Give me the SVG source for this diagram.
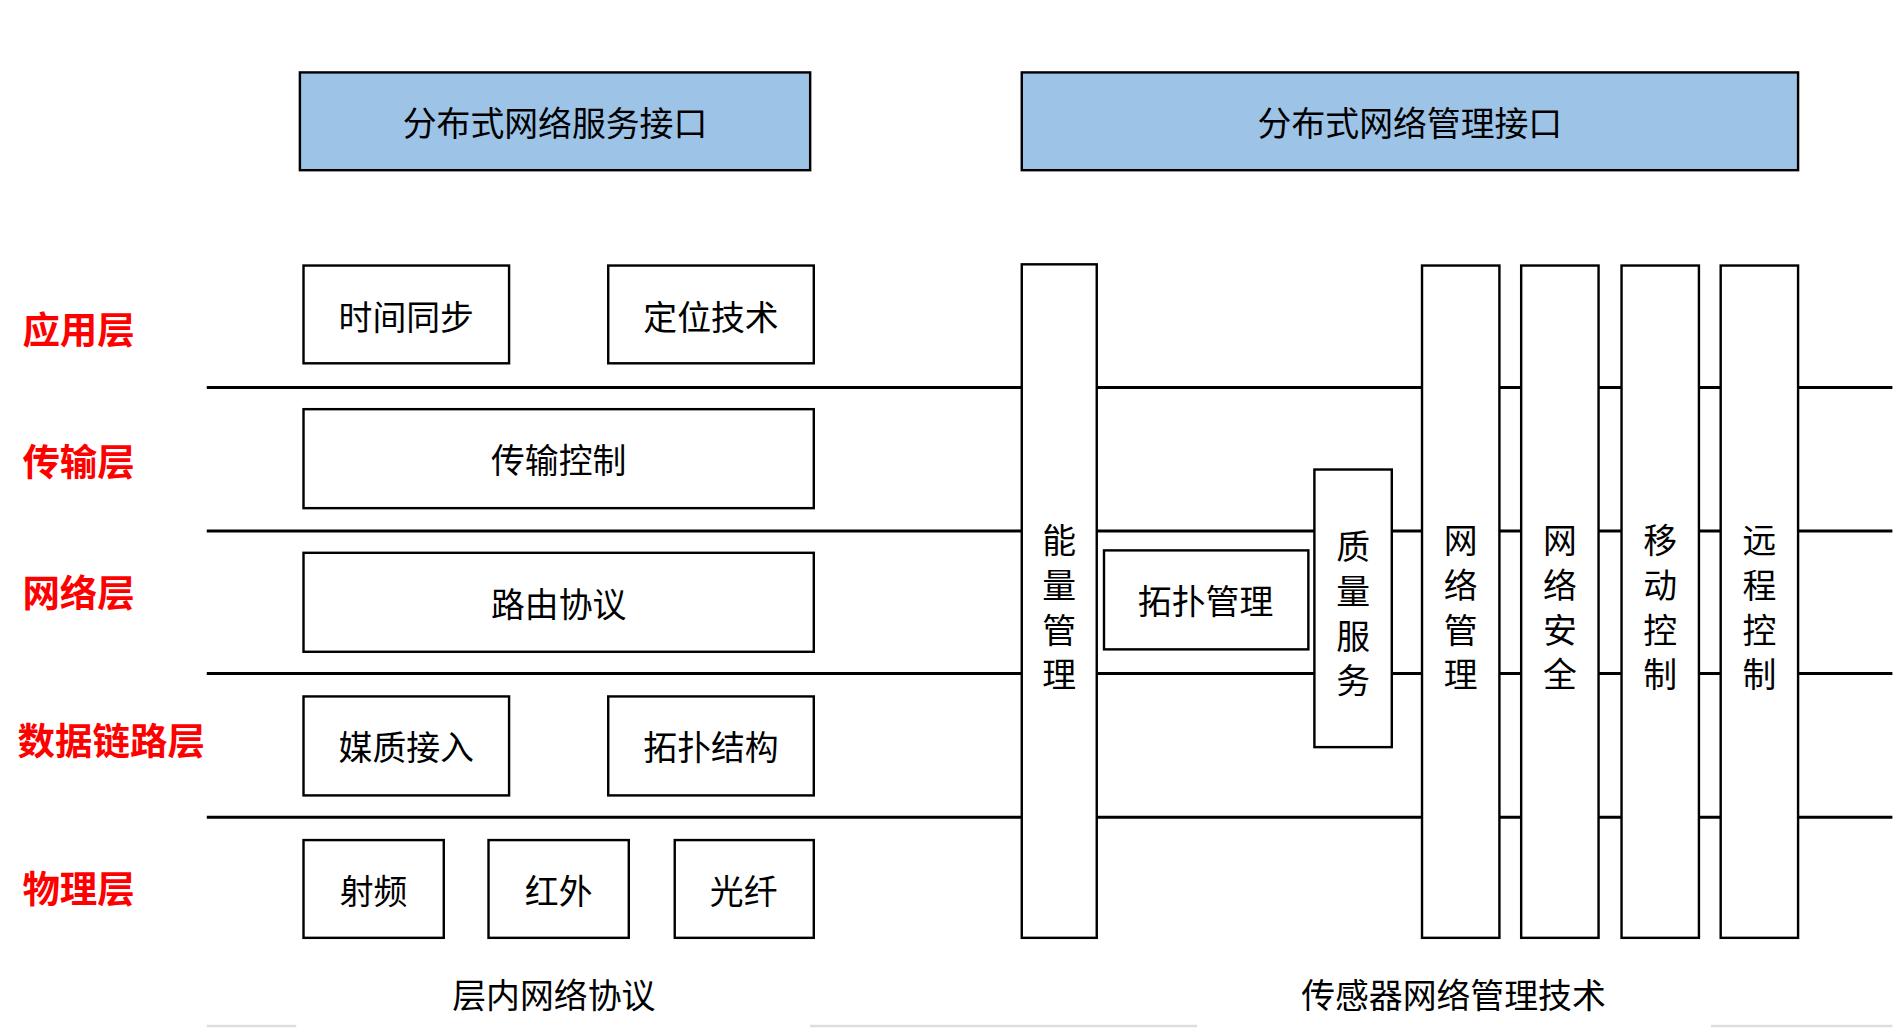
<svg xmlns="http://www.w3.org/2000/svg" width="1896" height="1032" viewBox="0 0 1896 1032">
<style>
.b{fill:#fff;stroke:#000;stroke-width:2}
.h{fill:#9dc3e6;stroke:#000;stroke-width:2}
.t{font-family:"Noto Sans CJK SC",sans-serif;font-size:28px;text-anchor:middle;dominant-baseline:central;fill:#000}
.r{font-family:"Noto Sans CJK SC",sans-serif;font-size:31px;font-weight:bold;fill:#f00;text-anchor:middle;dominant-baseline:central}
.l{stroke:#000;stroke-width:2.5}
</style>
<rect width="1896" height="1032" fill="#fff"/>
<g transform="scale(1.2092,1.207)">
<g id="connectors">
<path class="l" d="M171 321H845M171 440H845M171 558H845M171 677H845M907 321H1565M907 440H1565M907 558H1565M907 677H1565"/>
<path stroke="#ddd" stroke-width="2" d="M171 850H245M670 850H990M1415 850H1565"/>
</g>
<g id="layers">
<text class="r" x="65" y="272">应用层</text>
<text class="r" x="65" y="381">传输层</text>
<text class="r" x="65" y="490">网络层</text>
<text class="r" x="92" y="612">数据链路层</text>
<text class="r" x="65" y="735">物理层</text>
</g>
<g id="n1"><rect class="h" x="248" y="60" width="422" height="81"/><text class="t" x="459" y="101">分布式网络服务接口</text></g>
<g id="n2"><rect class="h" x="845" y="60" width="642" height="81"/><text class="t" x="1166" y="101">分布式网络管理接口</text></g>
<g id="n3"><rect class="b" x="251" y="220" width="170" height="81"/><text class="t" x="336" y="261">时间同步</text></g>
<g id="n4"><rect class="b" x="503" y="220" width="170" height="81"/><text class="t" x="588" y="261">定位技术</text></g>
<g id="n5"><rect class="b" x="251" y="339" width="422" height="82"/><text class="t" x="462" y="380">传输控制</text></g>
<g id="n6"><rect class="b" x="251" y="458" width="422" height="82"/><text class="t" x="462" y="499">路由协议</text></g>
<g id="n7"><rect class="b" x="251" y="577" width="170" height="82"/><text class="t" x="336" y="618">媒质接入</text></g>
<g id="n8"><rect class="b" x="503" y="577" width="170" height="82"/><text class="t" x="588" y="618">拓扑结构</text></g>
<g id="n9"><rect class="b" x="251" y="696" width="116" height="81"/><text class="t" x="309" y="737">射频</text></g>
<g id="n10"><rect class="b" x="404" y="696" width="116" height="81"/><text class="t" x="462" y="737">红外</text></g>
<g id="n11"><rect class="b" x="558" y="696" width="115" height="81"/><text class="t" x="615" y="737">光纤</text></g>
<g id="n12"><rect class="b" x="845" y="219" width="62" height="558"/><text class="t" x="876"><tspan x="876" y="446">能</tspan><tspan x="876" y="483">量</tspan><tspan x="876" y="520">管</tspan><tspan x="876" y="557">理</tspan></text></g>
<g id="n13"><rect class="b" x="913" y="456" width="169" height="82"/><text class="t" x="997" y="497">拓扑管理</text></g>
<g id="n14"><rect class="b" x="1087" y="389" width="64" height="230"/><text class="t"><tspan x="1119" y="451">质</tspan><tspan x="1119" y="488">量</tspan><tspan x="1119" y="525">服</tspan><tspan x="1119" y="562">务</tspan></text></g>
<g id="n15"><rect class="b" x="1176" y="220" width="64" height="557"/><text class="t"><tspan x="1208" y="446">网</tspan><tspan x="1208" y="483">络</tspan><tspan x="1208" y="520">管</tspan><tspan x="1208" y="557">理</tspan></text></g>
<g id="n16"><rect class="b" x="1258" y="220" width="64" height="557"/><text class="t"><tspan x="1290" y="446">网</tspan><tspan x="1290" y="483">络</tspan><tspan x="1290" y="520">安</tspan><tspan x="1290" y="557">全</tspan></text></g>
<g id="n17"><rect class="b" x="1341" y="220" width="64" height="557"/><text class="t"><tspan x="1373" y="446">移</tspan><tspan x="1373" y="483">动</tspan><tspan x="1373" y="520">控</tspan><tspan x="1373" y="557">制</tspan></text></g>
<g id="n18"><rect class="b" x="1423" y="220" width="64" height="557"/><text class="t"><tspan x="1455" y="446">远</tspan><tspan x="1455" y="483">程</tspan><tspan x="1455" y="520">控</tspan><tspan x="1455" y="557">制</tspan></text></g>
<text class="t" x="458" y="823">层内网络协议</text>
<text class="t" x="1202" y="823">传感器网络管理技术</text>
</g>
</svg>
